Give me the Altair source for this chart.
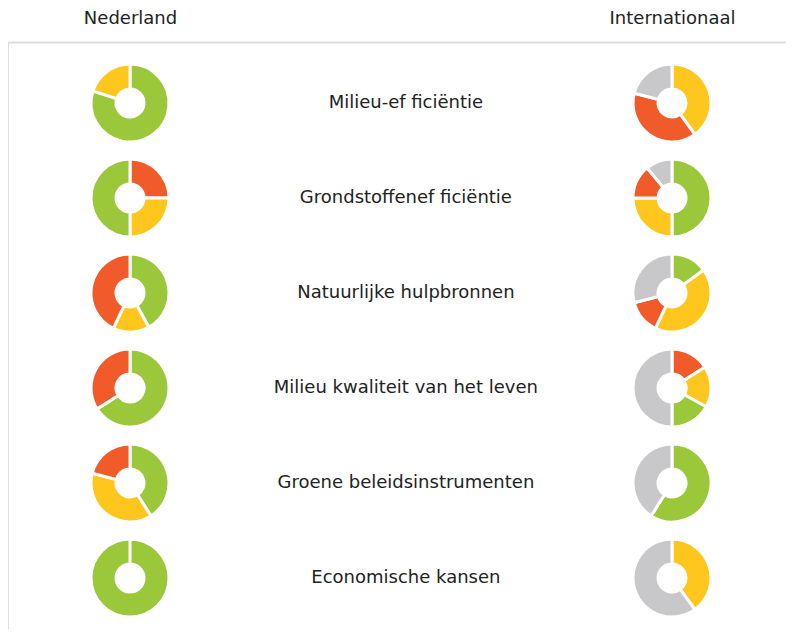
import altair as alt
import pandas as pd

# ---- data ----
kolommen = ["Nederland", "Internationaal"]
categorieen = [
    "Milieu-ef ficiëntie",
    "Grondstoffenef ficiëntie",
    "Natuurlijke hulpbronnen",
    "Milieu kwaliteit van het leven",
    "Groene beleidsinstrumenten",
    "Economische kansen",
]

# segments clockwise from 12 o'clock
nl_status = [
    ["groen", "geel"],
    ["rood", "geel", "groen"],
    ["groen", "geel", "rood"],
    ["groen", "rood"],
    ["groen", "geel", "rood"],
    ["groen"],
]
nl_waarden = [
    [80, 20],
    [25, 25, 50],
    [42, 15, 43],
    [66, 34],
    [41, 38, 21],
    [100],
]
int_status = [
    ["geel", "rood", "grijs"],
    ["groen", "geel", "rood", "grijs"],
    ["groen", "geel", "rood", "grijs"],
    ["rood", "geel", "groen", "grijs"],
    ["groen", "grijs"],
    ["geel", "grijs"],
]
int_waarden = [
    [40, 39, 21],
    [50, 25, 14, 11],
    [15, 42, 14, 29],
    [16, 17, 17, 50],
    [59, 41],
    [40, 60],
]

status_domein = ["groen", "geel", "rood", "grijs"]
status_kleuren = ["#9BC83A", "#FFC61E", "#F15A29", "#C8C8CA"]

rows = []
for k, (sts, vals) in enumerate([(nl_status, nl_waarden), (int_status, int_waarden)]):
    for r in range(len(categorieen)):
        for i, (s, v) in enumerate(zip(sts[r], vals[r])):
            rows.append({"kolom": k, "rij": r, "volgorde": i, "status": s, "waarde": v})
df = pd.DataFrame(rows)

labels_df = pd.DataFrame({"label": categorieen, "rij": list(range(len(categorieen))), "tx": [0.509] * len(categorieen)})

x_scale = alt.Scale(domain=[-0.2251, 1.2103], nice=False, zero=False)
y_scale = alt.Scale(domain=[-0.642, 5.537], nice=False, zero=False, reverse=True)

label_expr = "datum.value == 0 ? '" + kolommen[0] + "' : '" + kolommen[1] + "'"

FONT = "DejaVu Sans"

donuts = (
    alt.Chart(df)
    .transform_window(
        cum="sum(waarde)",
        sort=[alt.SortField("volgorde")],
        groupby=["kolom", "rij"],
        frame=[None, 0],
    )
    .transform_calculate(start="datum.cum - datum.waarde")
    .mark_arc(radius=39, radius2=14, stroke="white", strokeWidth=3)
    .encode(
        x=alt.X(
            "kolom:Q",
            scale=x_scale,
            axis=alt.Axis(
                orient="top",
                values=[0, 1],
                labelExpr=label_expr,
                ticks=False,
                grid=False,
                title=None,
                domainColor="#DEDEDE",
                domainWidth=2,
                labelFontSize=18,
                labelFont=FONT,
                labelColor="#222222",
                labelPadding=15,
            ),
        ),
        y=alt.Y("rij:Q", scale=y_scale, axis=None),
        theta=alt.Theta("start:Q", scale=alt.Scale(domain=[0, 100], range=[0, 6.283185307])),
        theta2="cum:Q",
        color=alt.Color("status:N", scale=alt.Scale(domain=status_domein, range=status_kleuren), legend=None),
    )
)

teksten = (
    alt.Chart(labels_df)
    .mark_text(fontSize=18, font=FONT, color="#222222", align="center", baseline="middle")
    .encode(
        x=alt.X("tx:Q", scale=x_scale),
        y=alt.Y("rij:Q", scale=y_scale),
        text="label:N",
    )
)

chart = (
    alt.layer(donuts, teksten)
    .properties(
        width=778,
        height=587,
        autosize=alt.AutoSizeParams(type="none"),
        padding={"top": 34, "left": 0, "right": 0, "bottom": 0},
    )
    .configure_view(stroke=None)
    .configure(background="white")
)

chart.save("out.html", embed_options={"renderer": "svg", "actions": False})
